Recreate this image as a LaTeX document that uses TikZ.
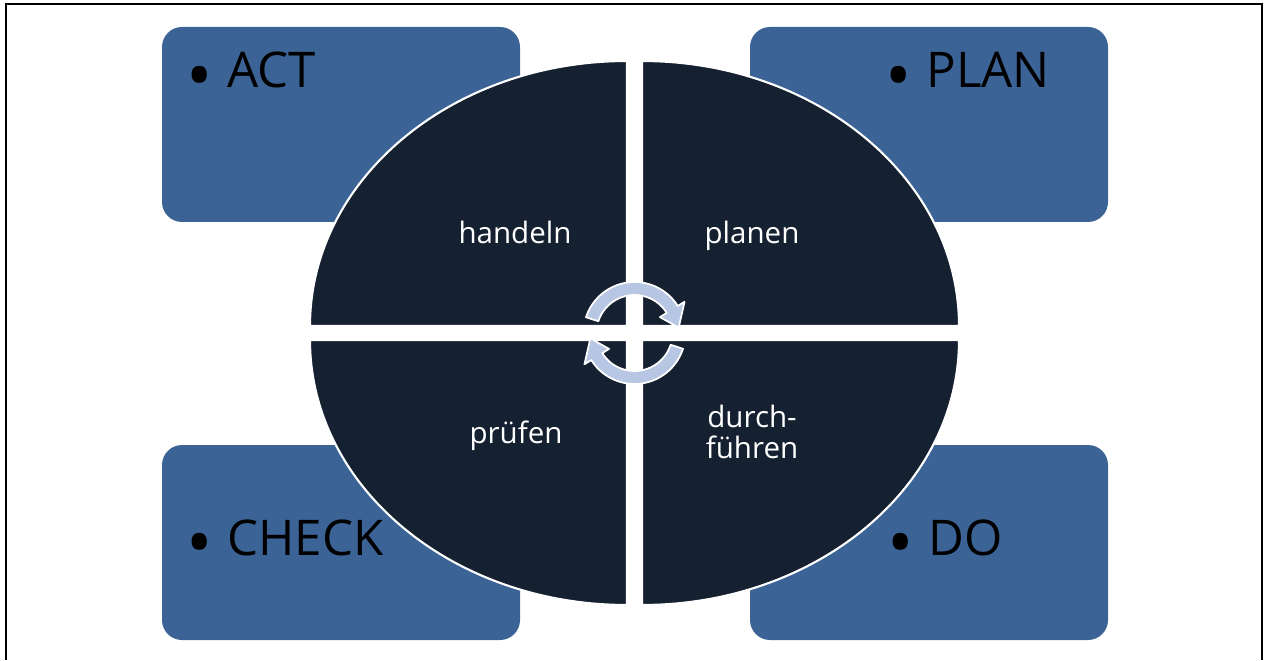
\documentclass[tikz,border=0pt]{standalone}
\usepackage{fontspec}
\setmainfont{Open Sans}

\definecolor{boxblue}{RGB}{60,99,150}
\definecolor{navy}{RGB}{21,32,49}
\definecolor{arrowblue}{RGB}{183,198,226}

\newcommand{\bigbullet}{{\fontsize{40}{40}\selectfont\raisebox{-0.18em}{•}}\hspace{0.3em}}

\tikzset{
    phasebox/.style={fill=boxblue, rounded corners=0.4cm},
    quarter/.style={fill=navy, draw=white, line width=1.2pt},
    phaselabel/.style={anchor=base west, inner sep=0pt, text=black, font=\fontsize{28}{30}\selectfont},
    quarterlabel/.style={anchor=base, inner sep=0pt, text=white, align=center, font=\fontsize{16.8}{17.6}\selectfont},
    cyclearrow/.style={fill=arrowblue, draw=white, line width=1pt, line join=round}
}

\begin{document}
\begin{tikzpicture}[x=0.02cm, y=0.02cm]
        % 1. VARIABLES (pixel grid of the slide)
        \def\RX{317}   % horizontal radius of the quarters
        \def\RY{265}   % vertical radius of the quarters
        \def\Ro{51}    % outer radius of the arrows
        \def\Ri{38}    % inner radius of the arrows

        \useasboundingbox (0,0) rectangle (1264,660);

        % frame (open at the bottom)
        \draw[line width=1.1pt, black] (6,0) -- (6,656) -- (1262,656) -- (1262,0);

        % ==========================================
        % 2. CORNER BOXES
        % ==========================================
        \fill[phasebox] (162,438) rectangle (520,633);
        \fill[phasebox] (750,438) rectangle (1108,633);
        \fill[phasebox] (162,20) rectangle (520,215);
        \fill[phasebox] (750,20) rectangle (1108,215);

        \node[phaselabel] (act) at (186,572) {\bigbullet ACT};
        \node[phaselabel] (plan) at (885,572) {\bigbullet PLAN};
        \node[phaselabel] (check) at (186,105) {\bigbullet CHECK};
        \node[phaselabel] (do) at (887,105) {\bigbullet DO};

        % ==========================================
        % 3. CIRCLE IN FOUR QUARTERS
        % ==========================================
        \filldraw[quarter] (627,334) -- ++(-\RX,0) arc[start angle=180, end angle=90, x radius=\RX, y radius=\RY] -- cycle;
        \filldraw[quarter] (642,334) -- ++(0,\RY) arc[start angle=90, end angle=0, x radius=\RX, y radius=\RY] -- cycle;
        \filldraw[quarter] (642,320) -- ++(\RX,0) arc[start angle=0, end angle=-90, x radius=\RX, y radius=\RY] -- cycle;
        \filldraw[quarter] (627,320) -- ++(0,-\RY) arc[start angle=270, end angle=180, x radius=\RX, y radius=\RY] -- cycle;

        \node[quarterlabel] (handeln) at (515,417) {handeln};
        \node[quarterlabel] (planen) at (752,417) {planen};
        \node[quarterlabel] (pruefen) at (516,217) {prüfen};
        \node[quarterlabel] (fuehren) at (752,202) {durch-\\führen};

        % ==========================================
        % 4. CYCLE ARROWS IN THE MIDDLE
        % ==========================================
        \foreach \rot in {0,180} {
            \begin{scope}[shift={(634.5,327)}, rotate=\rot]
                \filldraw[cyclearrow] (162:\Ro) arc[start angle=162, end angle=32, radius=\Ro]
                    -- (32:\Ro+8) -- (7:44.5) -- (32:\Ri-8) -- (32:\Ri)
                    arc[start angle=32, end angle=162, radius=\Ri] -- cycle;
            \end{scope}
        }
    \end{tikzpicture}
\end{document}
